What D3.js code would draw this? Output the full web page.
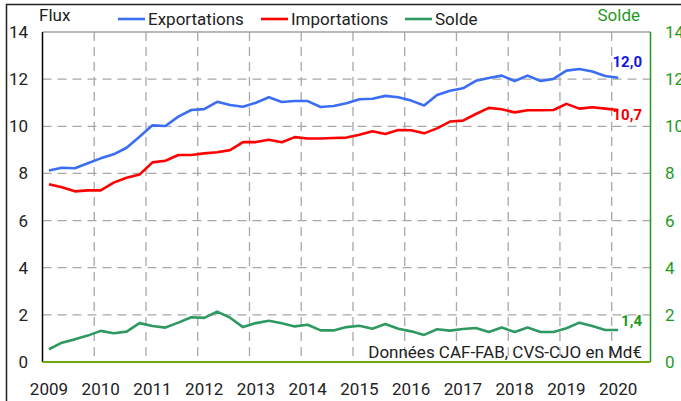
<!DOCTYPE html>
<html>

<head>
    <meta charset='utf-8'>
    <title>Flux</title>
    <script type='text/javascript' src='https://cdn.jsdelivr.net/npm/d3@7/dist/d3.min.js'></script>
    <style>
        body { margin: 0; background: #fff; }
        text { font-family: Roboto, 'Noto Sans', sans-serif; }
    </style>
</head>

<body>
    <svg width='681' height='401'></svg>
    <script type='text/javascript'>

        // quarterly, 2009 T1 -> 2020 T1
        const years = ['2009', '2010', '2011', '2012', '2013', '2014', '2015', '2016', '2017', '2018', '2019', '2020']
        const exportations = [8.12, 8.24, 8.22, 8.43, 8.64, 8.81, 9.09, 9.56, 10.04, 10.01, 10.41, 10.69, 10.73, 11.04, 10.90,
            10.83, 11.0, 11.23, 11.03, 11.07, 11.07, 10.82, 10.86, 10.98, 11.15, 11.17, 11.29, 11.23, 11.09, 10.88,
            11.33, 11.51, 11.61, 11.93, 12.05, 12.15, 11.92, 12.15, 11.92, 12.01, 12.36, 12.43, 12.32, 12.13, 12.06]
        const importations = [7.54, 7.41, 7.24, 7.28, 7.28, 7.61, 7.82, 7.95, 8.47, 8.54, 8.78, 8.78, 8.85, 8.90, 8.99,
            9.33, 9.33, 9.43, 9.32, 9.54, 9.48, 9.48, 9.50, 9.52, 9.64, 9.79, 9.67, 9.84, 9.83, 9.70,
            9.91, 10.20, 10.24, 10.52, 10.78, 10.72, 10.59, 10.68, 10.68, 10.69, 10.95, 10.75, 10.81, 10.75, 10.69]
        const solde = [0.54, 0.82, 0.96, 1.12, 1.32, 1.22, 1.29, 1.65, 1.53, 1.46, 1.67, 1.90, 1.87, 2.14, 1.88,
            1.48, 1.65, 1.75, 1.64, 1.51, 1.58, 1.34, 1.34, 1.48, 1.54, 1.41, 1.61, 1.41, 1.30, 1.15,
            1.39, 1.33, 1.40, 1.44, 1.27, 1.46, 1.27, 1.46, 1.27, 1.27, 1.43, 1.67, 1.53, 1.36, 1.36]
        const yTicks = [0, 2, 4, 6, 8, 10, 12, 14]
        const lastLabels = ['12,0', '10,7', '1,4']

        const series = [
            { name: 'Exportations', values: exportations, color: '#3b6ef5' },
            { name: 'Importations', values: importations, color: '#ff0000' },
            { name: 'Solde', values: solde, color: '#2e9960' }
        ]
        const green = '#1f9a1f'
        const fs = 17

        const svg = d3.select('svg')
        const margin = { top: 32, left: 42.5, bottom: 39, right: 30.5 }
        const width = 681, height = 401

        // outer frame
        svg.append('rect')
            .attr('x', 6.5).attr('y', 4.5)
            .attr('width', 720).attr('height', 500)
            .attr('fill', 'none').attr('stroke', '#222').attr('stroke-width', 1.5)

        const x = d3.scaleLinear().domain([-0.5, 46.5]).range([margin.left, width - margin.right])
        const y = d3.scaleLinear().domain([0, 14]).range([height - margin.bottom, margin.top])
        const y2 = d3.scaleLinear().domain([0, 14]).range([height - margin.bottom, margin.top])

        const g = svg.append('g')

        // horizontal grid
        g.selectAll('.hgrid')
            .data(yTicks.filter(d => d > 0 && d < 14))
            .enter().append('line')
            .attr('x1', x(-0.5)).attr('x2', x(46.5))
            .attr('y1', d => y(d)).attr('y2', d => y(d))
            .attr('stroke', '#a8a8a8').attr('stroke-width', 1.3)
            .attr('stroke-dasharray', '9,6')

        // vertical grid at year boundaries
        g.selectAll('.vgrid')
            .data(years.slice(1))
            .enter().append('line')
            .attr('x1', (d, i) => x((i + 1) * 4 - 0.5)).attr('x2', (d, i) => x((i + 1) * 4 - 0.5))
            .attr('y1', y(14)).attr('y2', y(0))
            .attr('stroke', '#a8a8a8').attr('stroke-width', 1.3)
            .attr('stroke-dasharray', '9,6')

        // frame of the plot
        g.append('line').attr('x1', x(-0.5)).attr('x2', x(46.5)).attr('y1', y(14)).attr('y2', y(14))
            .attr('stroke', '#a0a0a0').attr('stroke-width', 1.3)
        g.append('line').attr('x1', x(-0.5)).attr('x2', x(-0.5)).attr('y1', y(14)).attr('y2', y(0))
            .attr('stroke', '#000').attr('stroke-width', 1.5)
        g.append('line').attr('x1', x(46.5)).attr('x2', x(46.5)).attr('y1', y(14)).attr('y2', y(0))
            .attr('stroke', green).attr('stroke-width', 1.5)

        // note
        svg.append('text')
            .attr('x', 642).attr('y', 358)
            .attr('text-anchor', 'end')
            .attr('font-size', fs).attr('fill', '#222')
            .text('Données CAF-FAB, CVS-CJO en Md€')

        // lines
        const line = d3.line().x((d, i) => x(i)).y(d => y(d))
        series.forEach(s => {
            g.append('path')
                .datum(s.values)
                .attr('d', line)
                .attr('fill', 'none')
                .attr('stroke', s.color)
                .attr('stroke-width', 2.6)
                .attr('stroke-linejoin', 'round')
        })

        // bottom axis line
        g.append('line').attr('x1', x(-0.5)).attr('x2', x(46.5)).attr('y1', y(0)).attr('y2', y(0))
            .attr('stroke', '#6fa810').attr('stroke-width', 2)

        // last value labels
        const labelColors = ['#1515e0', '#ee0000', green]
        const labelDy = [-11, 10, -4]
        series.forEach((s, k) => {
            svg.append('text')
                .attr('x', 642)
                .attr('y', y(s.values[s.values.length - 1]) + labelDy[k])
                .attr('text-anchor', 'end')
                .attr('font-size', 15).attr('font-weight', 'bold')
                .attr('fill', labelColors[k])
                .text(lastLabels[k])
        })

        // left axis labels
        svg.selectAll('.yl')
            .data(yTicks)
            .enter().append('text')
            .attr('x', 28).attr('y', d => y(d) + 6)
            .attr('text-anchor', 'end')
            .attr('font-size', fs).attr('fill', '#222')
            .text(d => d)

        // right axis labels
        svg.selectAll('.yr')
            .data(yTicks)
            .enter().append('text')
            .attr('x', 665).attr('y', d => y2(d) + 6)
            .attr('font-size', fs).attr('fill', green)
            .text(d => d)

        // year labels
        svg.selectAll('.xl')
            .data(years)
            .enter().append('text')
            .attr('x', (d, i) => x(i * 4)).attr('y', 395)
            .attr('text-anchor', 'middle')
            .attr('font-size', fs).attr('fill', '#222')
            .text(d => d)

        // titles
        svg.append('text').attr('x', 39).attr('y', 21).attr('font-size', fs).attr('fill', '#222').text('Flux')
        svg.append('text').attr('x', 640).attr('y', 21).attr('text-anchor', 'end')
            .attr('font-size', fs).attr('fill', green).text('Solde')

        // legend
        const legendX = [118, 261, 405]
        series.forEach((s, k) => {
            svg.append('line')
                .attr('x1', legendX[k]).attr('x2', legendX[k] + 27)
                .attr('y1', 19).attr('y2', 19)
                .attr('stroke', s.color).attr('stroke-width', 2.6)
            svg.append('text')
                .attr('x', legendX[k] + 30).attr('y', 25)
                .attr('font-size', fs).attr('fill', '#222')
                .text(s.name)
        })
    </script>
</body>

</html>
